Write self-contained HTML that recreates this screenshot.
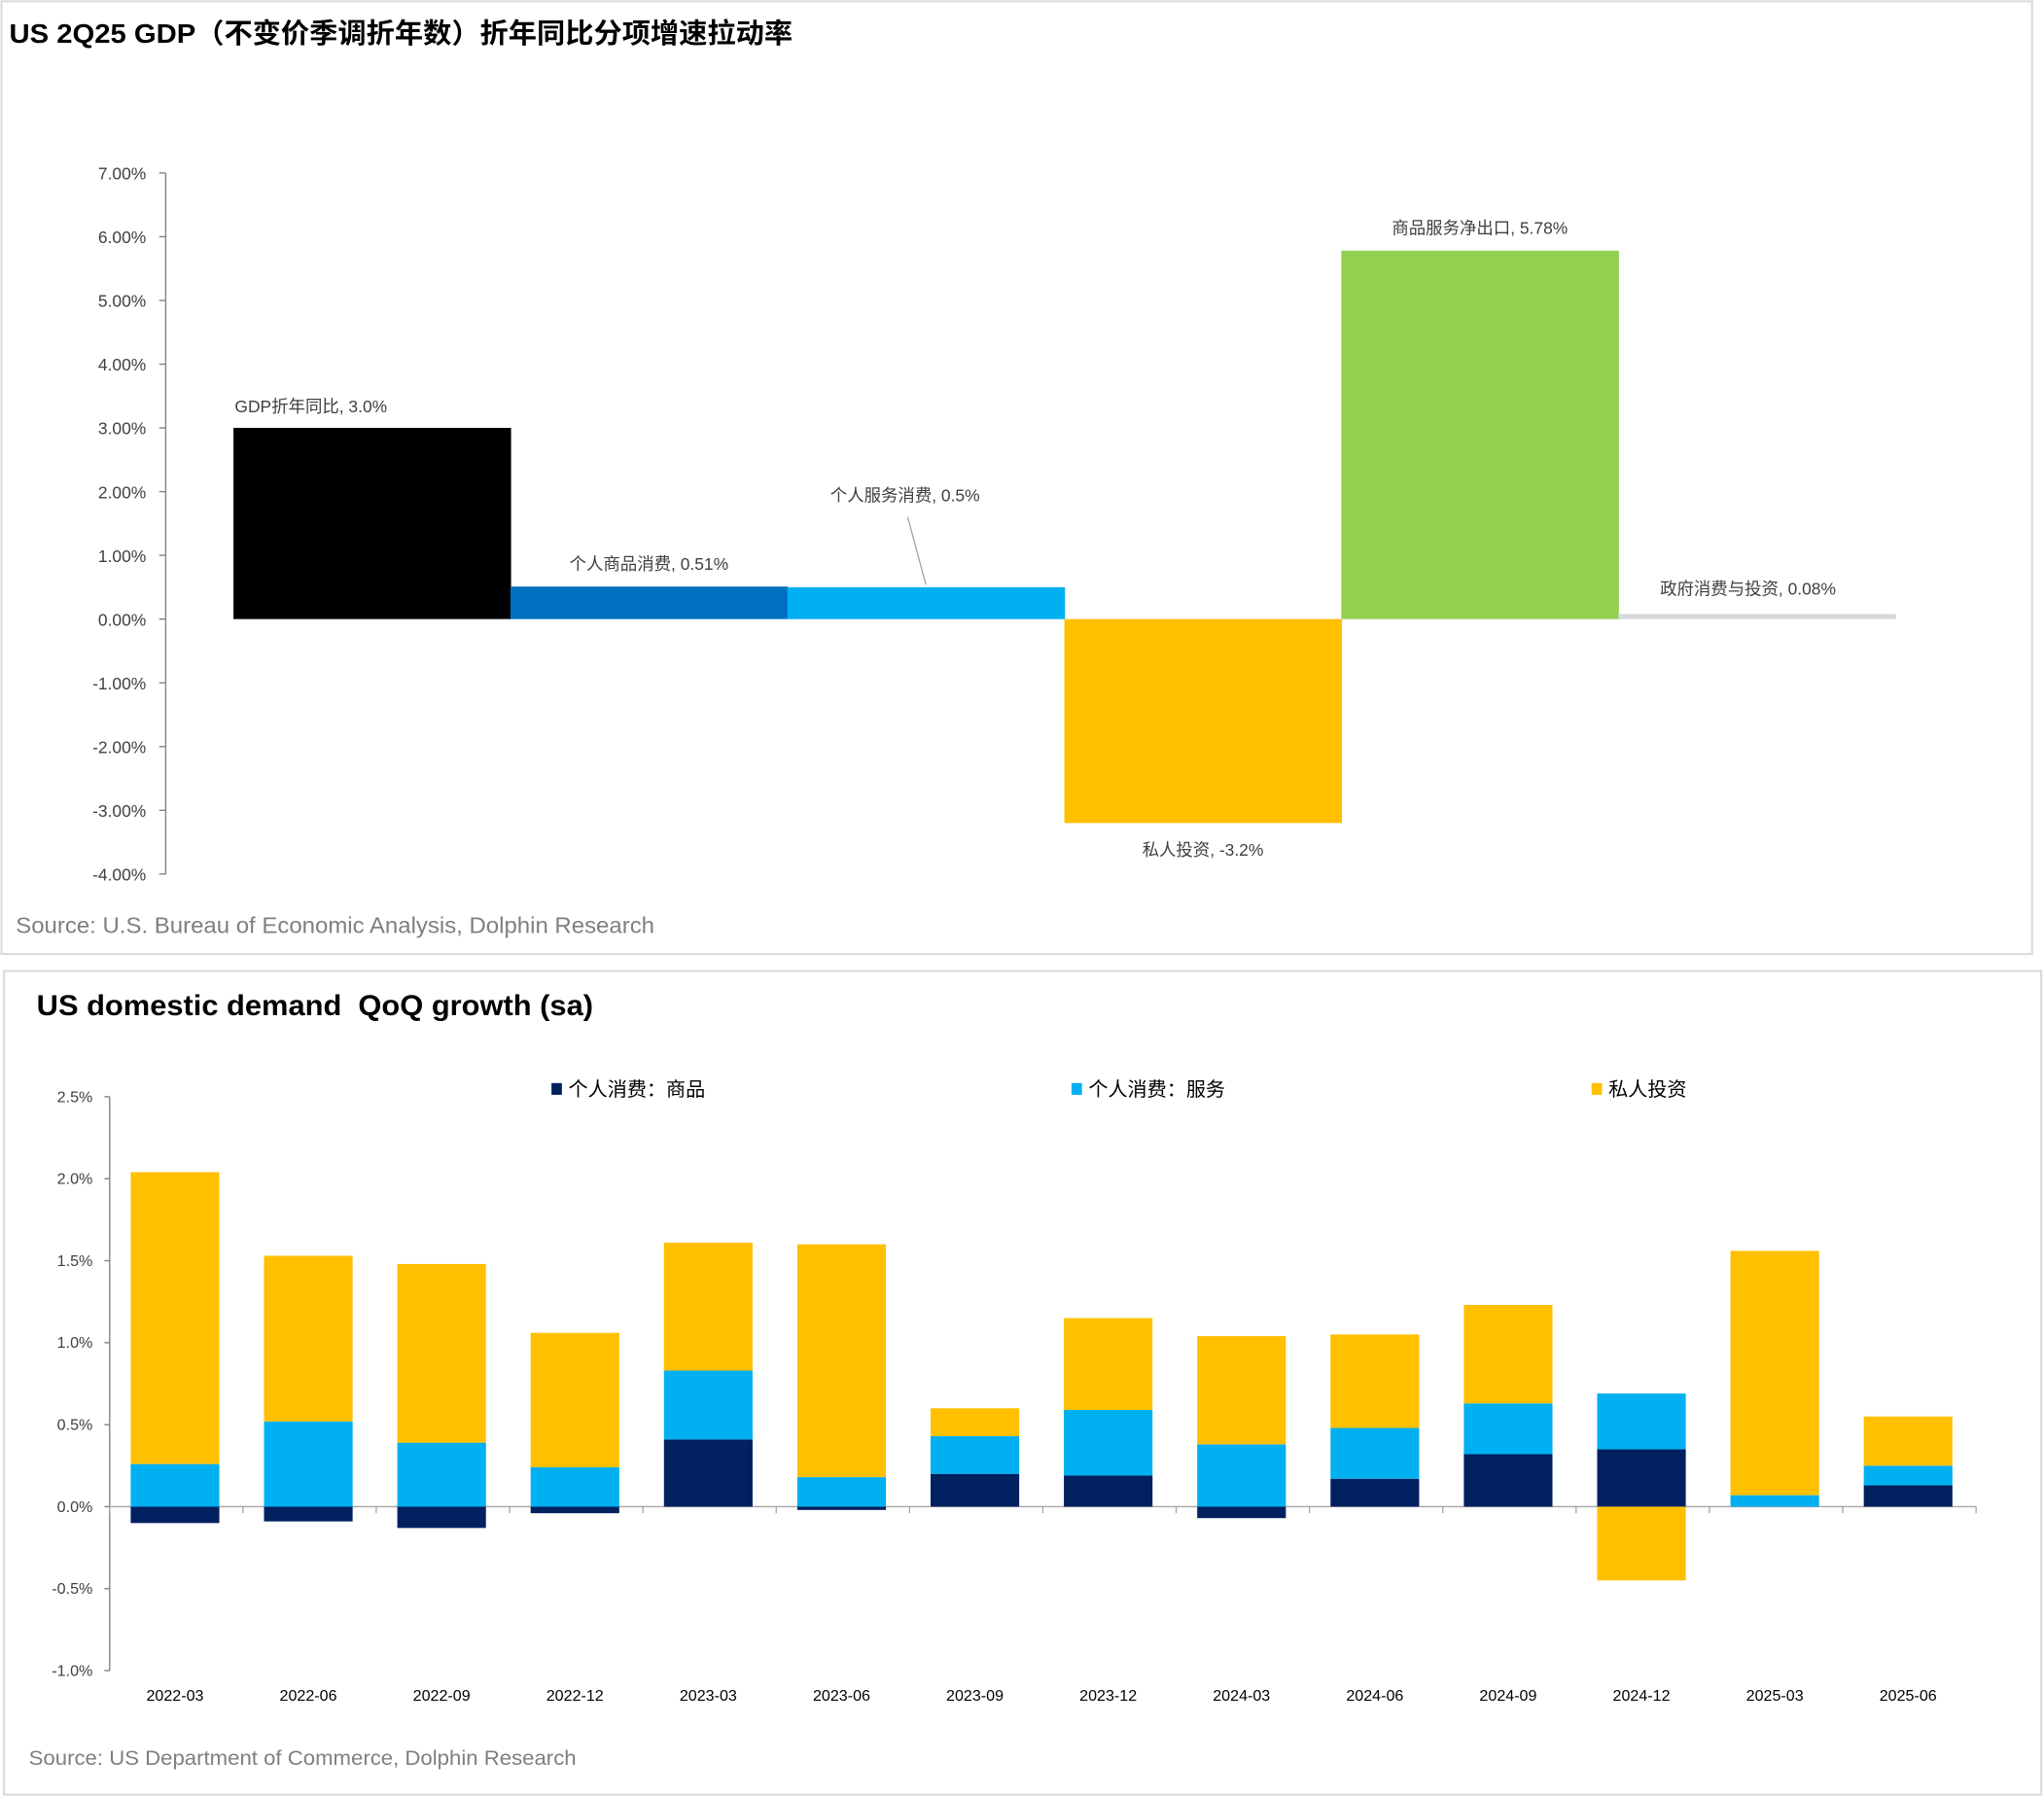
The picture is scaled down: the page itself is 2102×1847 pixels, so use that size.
<!DOCTYPE html>
<html><head><meta charset="utf-8"><style>
html,body{margin:0;padding:0;background:#fff;}
svg{display:block;font-family:"Liberation Sans","Noto Sans CJK SC",sans-serif;}
</style></head><body>
<svg id="svg" width="2102" height="1847" viewBox="0 0 1568 1378" xmlns="http://www.w3.org/2000/svg">
<rect x="1" y="1" width="1558" height="731" fill="#fff" stroke="#d9d9d9" stroke-width="1.5"/>
<text x="7" y="33" font-size="21" font-weight="bold" fill="#000" textLength="601" lengthAdjust="spacingAndGlyphs">US 2Q25 GDP（不变价季调折年数）折年同比分项增速拉动率</text>
<g id="top"></g>
<text x="12" y="716" font-size="17" fill="#7f7f7f" textLength="490" lengthAdjust="spacingAndGlyphs">Source: U.S. Bureau of Economic Analysis, Dolphin Research</text>
<rect x="3" y="745" width="1563" height="632" fill="#fff" stroke="#d9d9d9" stroke-width="1.5"/>
<text x="28" y="779" font-size="22" font-weight="bold" fill="#000" xml:space="preserve" textLength="427" lengthAdjust="spacingAndGlyphs">US domestic demand  QoQ growth (sa)</text>
<g id="bot"></g>
<text x="22" y="1354" font-size="16" fill="#7f7f7f" textLength="420" lengthAdjust="spacingAndGlyphs">Source: US Department of Commerce, Dolphin Research</text>
</svg>
<script>
// ---- top chart data ----
const topCats = ["GDP折年同比","个人商品消费","个人服务消费","私人投资","商品服务净出口","政府消费与投资"];
const topVals = [3.0, 0.51, 0.5, -3.2, 5.78, 0.08];
const topLabels = ["3.0%","0.51%","0.5%","-3.2%","5.78%","0.08%"];
const topTicks = [7,6,5,4,3,2,1,0,-1,-2,-3,-4];
// ---- bottom chart data ----
const botCats = ["2022-03","2022-06","2022-09","2022-12","2023-03","2023-06","2023-09","2023-12","2024-03","2024-06","2024-09","2024-12","2025-03","2025-06"];
const goods = [-0.10,-0.09,-0.13,-0.04,0.41,-0.02,0.20,0.19,-0.07,0.17,0.32,0.35,0.0,0.13];
const services = [0.26,0.52,0.39,0.24,0.42,0.18,0.23,0.40,0.38,0.31,0.31,0.34,0.07,0.12];
const invest = [1.78,1.01,1.09,0.82,0.78,1.42,0.17,0.56,0.66,0.57,0.60,-0.45,1.49,0.30];
const botTicks = [2.5,2.0,1.5,1.0,0.5,0.0,-0.5,-1.0];
const seriesNames = ["个人消费：商品","个人消费：服务","私人投资"];

const NS="http://www.w3.org/2000/svg";
function mk(parent,tag,attrs,txt){const e=document.createElementNS(NS,tag);for(const k in attrs)e.setAttribute(k,attrs[k]);if(txt!==undefined)e.textContent=txt;parent.appendChild(e);return e;}

// top
(function(){
const g=document.getElementById('top');
const y=v=>475-v*48.9;
const x0=179,bw=212.5;
mk(g,'line',{x1:127,y1:y(7),x2:127,y2:y(-4),stroke:'#7f7f7f','stroke-width':1});
topTicks.forEach(t=>{
 const tl=mk(g,'line',{x1:122,y1:y(t),x2:127,y2:y(t),stroke:'#7f7f7f'});
 
 
 const tx=mk(g,'text',{x:112,y:y(t)+5,'font-size':13,'text-anchor':'end',fill:'#404040'},t.toFixed(2)+'%');
 
 
});
const cols=['#000000','#0070C0','#00B0F0','#FFC000','#92D050','#D9D9D9'];
topVals.forEach((v,i)=>{
 const xa=x0+i*bw;
 const top=Math.min(y(v),y(0)),h=Math.max(Math.abs(y(v)-y(0)),1);
 const r=mk(g,'rect',{x:xa,y:top,width:bw+0.5,height:h,fill:cols[i]});
 
 
 let lx=xa+bw/2,ly,anchor='middle';
 if(i===0){lx=xa+1;anchor='start';ly=y(v)-12;}
 else if(i===2){lx=xa+bw/2-16;ly=y(v)-66;}
 else if(i===5){lx=xa+32;anchor='start';ly=y(v)-15;}
 else if(v<0){ly=y(v)+25;}
 else ly=y(v)-13;
 const t=mk(g,'text',{x:lx,y:ly,'font-size':13,'text-anchor':anchor,fill:'#404040'},topCats[i]+', '+topLabels[i]);
 
 
 if(i===2){const l=mk(g,'line',{x1:lx+2,y1:ly+12,x2:lx+16,y2:y(v)-2,stroke:'#a6a6a6'});
  
  }
});
})();

// bottom
(function(){
const g=document.getElementById('bot');
const y=v=>1156-v*125.8;
const xl=84,xr=1516,step=(xr-xl)/14,bw=68;
mk(g,'line',{x1:xl,y1:y(2.5),x2:xl,y2:y(-1),stroke:'#7f7f7f'});
mk(g,'line',{x1:xl,y1:y(0),x2:xr,y2:y(0),stroke:'#a6a6a6'});
botTicks.forEach(t=>{
 const tl=mk(g,'line',{x1:80,y1:y(t),x2:xl,y2:y(t),stroke:'#7f7f7f'});
 
 
 const tx=mk(g,'text',{x:71,y:y(t)+4,'font-size':12,'text-anchor':'end',fill:'#404040'},t.toFixed(1)+'%');
 
 
});
for(let i=0;i<=14;i++){const tk=mk(g,'line',{x1:xl+i*step,y1:y(0),x2:xl+i*step,y2:y(0)+5,stroke:'#a6a6a6'});
 
 }
const cols=['#002060','#00B0F0','#FFC000'];
botCats.forEach((c,i)=>{
 const cx=xl+step*(i+0.5)-1;
 let pos=0,neg=0;
 [goods[i],services[i],invest[i]].forEach((v,s)=>{
  let a,b;
  if(v>=0){a=pos;b=pos+v;pos=b;}else{a=neg;b=neg+v;neg=b;}
  const r=mk(g,'rect',{x:cx-bw/2,y:Math.min(y(a),y(b)),width:bw,height:Math.abs(y(b)-y(a)),fill:cols[s]});
  
  
 });
 const t=mk(g,'text',{x:cx,y:1305,'font-size':12,'text-anchor':'middle',fill:'#000'},c);
 
 
});
const lx=[423,822,1221];
seriesNames.forEach((n,s)=>{
 const r=mk(g,'rect',{x:lx[s],y:831,width:8,height:9,fill:cols[s]});
 
 
 const t=mk(g,'text',{x:lx[s]+13,y:841,'font-size':15,fill:'#000'},n);
 
 
});
})();
</script>
</body></html>
